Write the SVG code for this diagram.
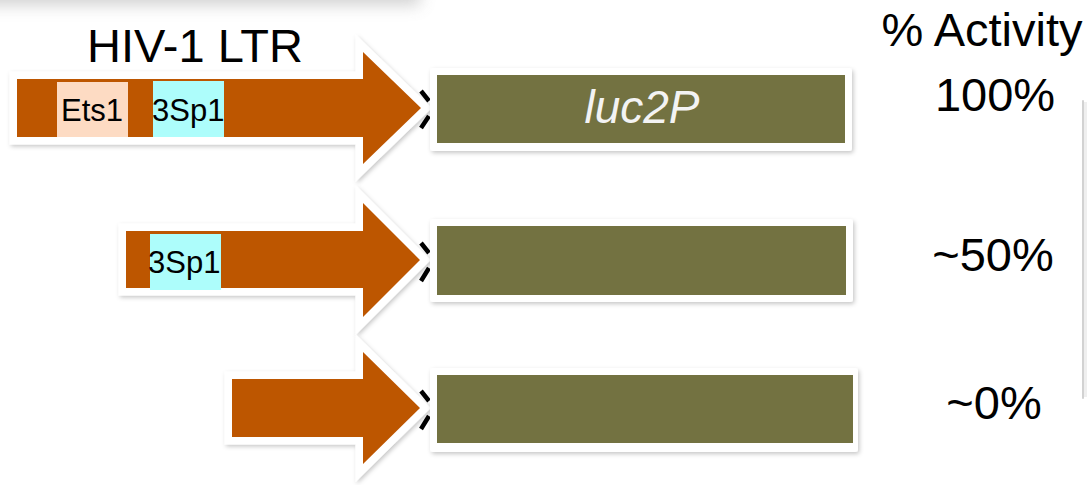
<svg xmlns="http://www.w3.org/2000/svg" width="1087" height="485" viewBox="0 0 1087 485">
<style>
.arrow{fill:#BD5705;stroke:#FFFFFF;stroke-width:15;stroke-linejoin:miter;stroke-miterlimit:6;paint-order:stroke;filter:url(#sh)}
.frame{fill:#FFFFFF;filter:url(#sh)}
.gene{fill:#737241}
.lbl{font-family:"Liberation Sans",Arial,sans-serif;fill:#000}
.big{font-size:47px}
.site{font-size:31px}
.conn{fill:none;stroke:#000;stroke-width:4.5}
</style>
<defs>
<filter id="sh" x="-10%" y="-20%" width="125%" height="150%">
<feDropShadow dx="1.5" dy="2" stdDeviation="2" flood-color="#000" flood-opacity="0.22"/>
</filter>
<filter id="blur" x="-50%" y="-200%" width="200%" height="500%">
<feGaussianBlur stdDeviation="8"/>
</filter>
</defs>
<rect width="1087" height="485" fill="#FFFFFF"/>
<rect x="-20" y="-40" width="440" height="45" fill="#9a9a9a" opacity="0.45" filter="url(#blur)"/>
<g id="bracket">
<line x1="1083" y1="101" x2="1083" y2="398" stroke="#d2d2d2" stroke-width="2" stroke-linecap="round"/>
<line x1="1085.5" y1="102" x2="1085.5" y2="397" stroke="#efefef" stroke-width="3"/>
</g>
<g id="arrow1">
<polygon class="arrow" points="17,79 363,79 363,52 421,108 363,164 363,137 17,137"/>
<rect x="57" y="82" width="71" height="55" fill="#FDDBC3"/>
<rect x="153" y="81" width="71" height="56" fill="#ADFDFB"/>
<text class="lbl site" x="92" y="121" text-anchor="middle">Ets1</text>
<text class="lbl site" x="152" y="121">3Sp1</text>
</g>
<g id="arrow2">
<polygon class="arrow" points="126,231 363,231 363,203 420,260 363,317 363,288 126,288"/>
<rect x="150" y="234" width="71" height="56" fill="#ADFDFB"/>
<text class="lbl site" x="148" y="273">3Sp1</text>
</g>
<g id="arrow3">
<polygon class="arrow" points="232,379 363,379 363,352 420,408 363,464 363,437 232,437"/>
</g>
<g id="connectors">
<path class="conn" d="M421,91 L429,101 M429,116 L421,128"/>
<path class="conn" d="M421,243 L429,253 M429,268 L421,281"/>
<path class="conn" d="M421,391 L429,401 M429,416 L421,429"/>
</g>
<g id="gene1">
<rect class="frame" x="430" y="68" width="422" height="83" rx="3"/>
<rect class="gene" x="437" y="75" width="408" height="68"/>
<text x="642" y="123" text-anchor="middle" font-family="Liberation Sans,Arial,sans-serif" font-style="italic" font-size="46" fill="#F3F3F3">luc2P</text>
</g>
<g id="gene2">
<rect class="frame" x="430" y="219" width="423" height="83" rx="3"/>
<rect class="gene" x="437" y="226" width="409" height="69"/>
</g>
<g id="gene3">
<rect class="frame" x="430" y="368" width="428" height="84" rx="3"/>
<rect class="gene" x="437" y="375" width="416" height="68"/>
</g>
<g id="labels">
<text class="lbl big" x="195" y="62" text-anchor="middle">HIV-1 LTR</text>
<text class="lbl big" x="982" y="46" text-anchor="middle">% Activity</text>
<text class="lbl big" x="995" y="111" text-anchor="middle">100%</text>
<text class="lbl big" x="993" y="271" text-anchor="middle">~50%</text>
<text class="lbl big" x="994" y="419" text-anchor="middle">~0%</text>
</g>
</svg>
